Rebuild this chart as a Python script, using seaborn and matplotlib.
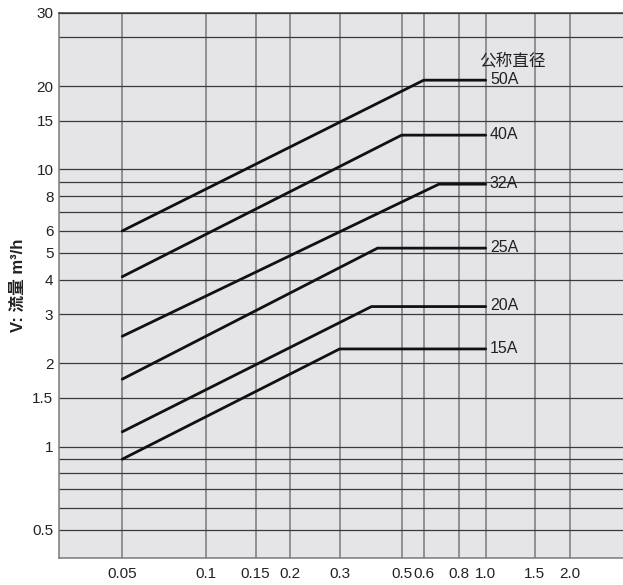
import numpy as np, pandas as pd, matplotlib
matplotlib.use("Agg"); import matplotlib.pyplot as plt
import seaborn as sns
sns.set_style("white")
plt.rcParams["font.family"] = ["Liberation Sans", "Noto Sans CJK SC"]

# ---- data (x: pressure drop, y: flow m3/h) ----
sizes   = ["50A", "40A", "32A", "25A", "20A", "15A"]
x_start = [0.05, 0.05, 0.05, 0.05, 0.05, 0.05]
y_start = [6.0, 4.1, 2.5, 1.75, 1.13, 0.9]
x_knee  = [0.6, 0.5, 0.68, 0.41, 0.39, 0.3]
y_knee  = [21.0, 13.3, 8.85, 5.2, 3.2, 2.25]
x_end   = [1.0, 1.0, 1.0, 1.0, 1.0, 1.0]

xgrid   = [0.05, 0.1, 0.15, 0.2, 0.3, 0.5, 0.6, 0.8, 1.0, 1.5, 2.0]
xlabels = ["0.05", "0.1", "0.15", "0.2", "0.3", "0.5", "0.6", "0.8", "1.0", "1.5", "2.0"]
ygrid   = [0.5, 0.6, 0.7, 0.8, 0.9, 1, 1.5, 2, 3, 4, 5, 6, 7, 8, 9, 10, 15, 20, 30, 36.7]
ylabels = ["0.5", "", "", "", "", "1", "1.5", "2", "3", "4", "5", "6", "", "8", "", "10",
           "15", "20", "", "30"]

rows = []
for s, xs, ys, xk, yk, xe in zip(sizes, x_start, y_start, x_knee, y_knee, x_end):
    rows += [(s, 0, xs, ys), (s, 1, xk, yk), (s, 2, xe, yk)]
df = pd.DataFrame(rows, columns=["size", "order", "dp", "flow"])

fig = plt.figure(figsize=(6.23, 5.85), dpi=100)
ax = fig.add_axes([59/623, 1-558.3/585, 1-59/623, (558.3-13)/585])
ax.set_facecolor("#e5e4e7")
ax.set_xscale("log"); ax.set_yscale("log")
ax.set_xlim(0.0297, 3.1); ax.set_ylim(0.395, 36.7)

for v in xgrid:
    ax.axvline(v, color="#7a7a7a", lw=1.1, zorder=1)
for v in ygrid:
    ax.axhline(v, color="#3a3a3a", lw=0.9, zorder=1)

sns.lineplot(data=df, x="dp", y="flow", hue="size", sort=False, estimator=None,
             palette=["#111111"]*len(sizes), lw=2.0, legend=False, ax=ax, zorder=3)

for s, yk in zip(sizes, y_knee):
    ax.annotate(s, (1.0, yk), xytext=(3, 0.5), textcoords="offset points",
                ha="left", va="center", fontsize=11.5, color="#222222")
ax.annotate("公称直径", (1.0, y_knee[0]), xytext=(-5, 14), textcoords="offset points",
            ha="left", va="center", fontsize=12, color="#222222")

ax.xaxis.set_minor_locator(matplotlib.ticker.NullLocator())
ax.yaxis.set_minor_locator(matplotlib.ticker.NullLocator())
ax.set_xticks(xgrid); ax.set_xticklabels(xlabels)
ax.set_yticks(ygrid); ax.set_yticklabels(ylabels)
ax.tick_params(axis="x", length=0, pad=6, labelsize=11, colors="#222222")
ax.tick_params(axis="y", length=0, pad=4, labelsize=11, colors="#222222")
ax.set_xlabel("")
ax.set_ylabel("V: 流量 m³/h", fontsize=12, fontweight="bold", labelpad=5, color="#222222")

for side, c in [("left", "#7a7a7a"), ("bottom", "#7a7a7a"), ("top", "#3a3a3a")]:
    ax.spines[side].set_color(c); ax.spines[side].set_linewidth(1.1)
ax.spines["right"].set_visible(False)

fig.savefig("out.png", dpi=100, facecolor="white")
